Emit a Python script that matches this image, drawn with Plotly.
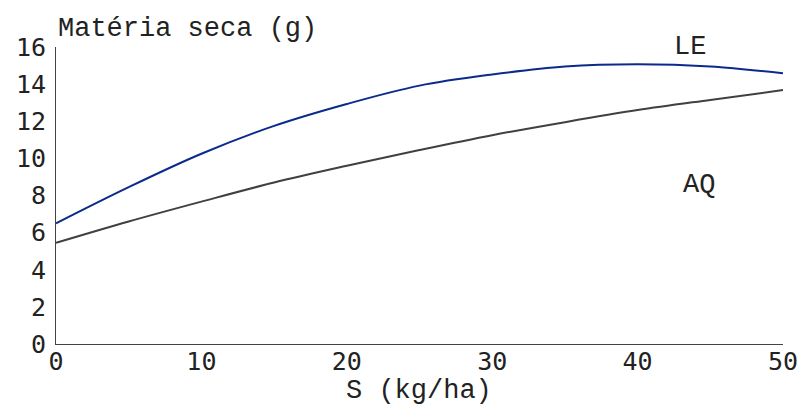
import plotly.graph_objects as go

s_dose = [0, 5, 10, 15, 20, 25, 30, 35, 40, 45, 50]
le_values = [6.5, 8.45, 10.25, 11.75, 12.93, 13.92, 14.52, 14.95, 15.07, 14.95, 14.58]
aq_values = [5.45, 6.6, 7.67, 8.7, 9.6, 10.45, 11.25, 11.95, 12.6, 13.15, 13.68]
x_ticks = [0, 10, 20, 30, 40, 50]
y_ticks = [0, 2, 4, 6, 8, 10, 12, 14, 16]

TEXT_FONT = "Liberation Mono, Courier New, monospace"
TICK_FONT = "DejaVu Sans Mono, monospace"

fig = go.Figure()
fig.add_trace(go.Scatter(x=s_dose, y=le_values, mode="lines", name="LE",
                         line=dict(color="#0a2a8c", width=2, shape="spline"),
                         showlegend=False))
fig.add_trace(go.Scatter(x=s_dose, y=aq_values, mode="lines", name="AQ",
                         line=dict(color="#404040", width=2, shape="spline"),
                         showlegend=False))

fig.update_layout(
    width=810, height=408,
    margin=dict(l=56, r=21, t=47, b=64),
    plot_bgcolor="white", paper_bgcolor="white",
    xaxis=dict(range=[0, 50], tickvals=x_ticks, showgrid=False, zeroline=False,
               showline=True, linecolor="#444444", linewidth=1, ticks="",
               ticklabelstandoff=-5,
               tickfont=dict(family=TICK_FONT, size=25, color="#222222")),
    yaxis=dict(range=[0, 16], tickvals=y_ticks, showgrid=False, zeroline=False,
               showline=True, linecolor="#444444", linewidth=1, ticks="",
               ticklabelstandoff=4,
               tickfont=dict(family=TICK_FONT, size=25, color="#222222")),
    annotations=[
        dict(text="Matéria seca (g)", xref="paper", yref="paper", x=0, y=1.06,
             xanchor="left", yanchor="middle", showarrow=False,
             font=dict(family=TEXT_FONT, size=27, color="#222222")),
        dict(text="S (kg/ha)", xref="paper", yref="paper", x=0.499, y=-0.212,
             xanchor="center", yanchor="bottom", showarrow=False, borderpad=0,
             font=dict(family=TEXT_FONT, size=27, color="#222222")),
        dict(text="LE", xref="x", yref="y", x=43.6, y=16.0,
             xanchor="center", yanchor="middle", showarrow=False,
             font=dict(family=TEXT_FONT, size=27, color="#222222")),
        dict(text="AQ", xref="x", yref="y", x=44.2, y=8.55,
             xanchor="center", yanchor="middle", showarrow=False,
             font=dict(family=TEXT_FONT, size=27, color="#222222")),
    ],
)

fig.write_html("out.html")
